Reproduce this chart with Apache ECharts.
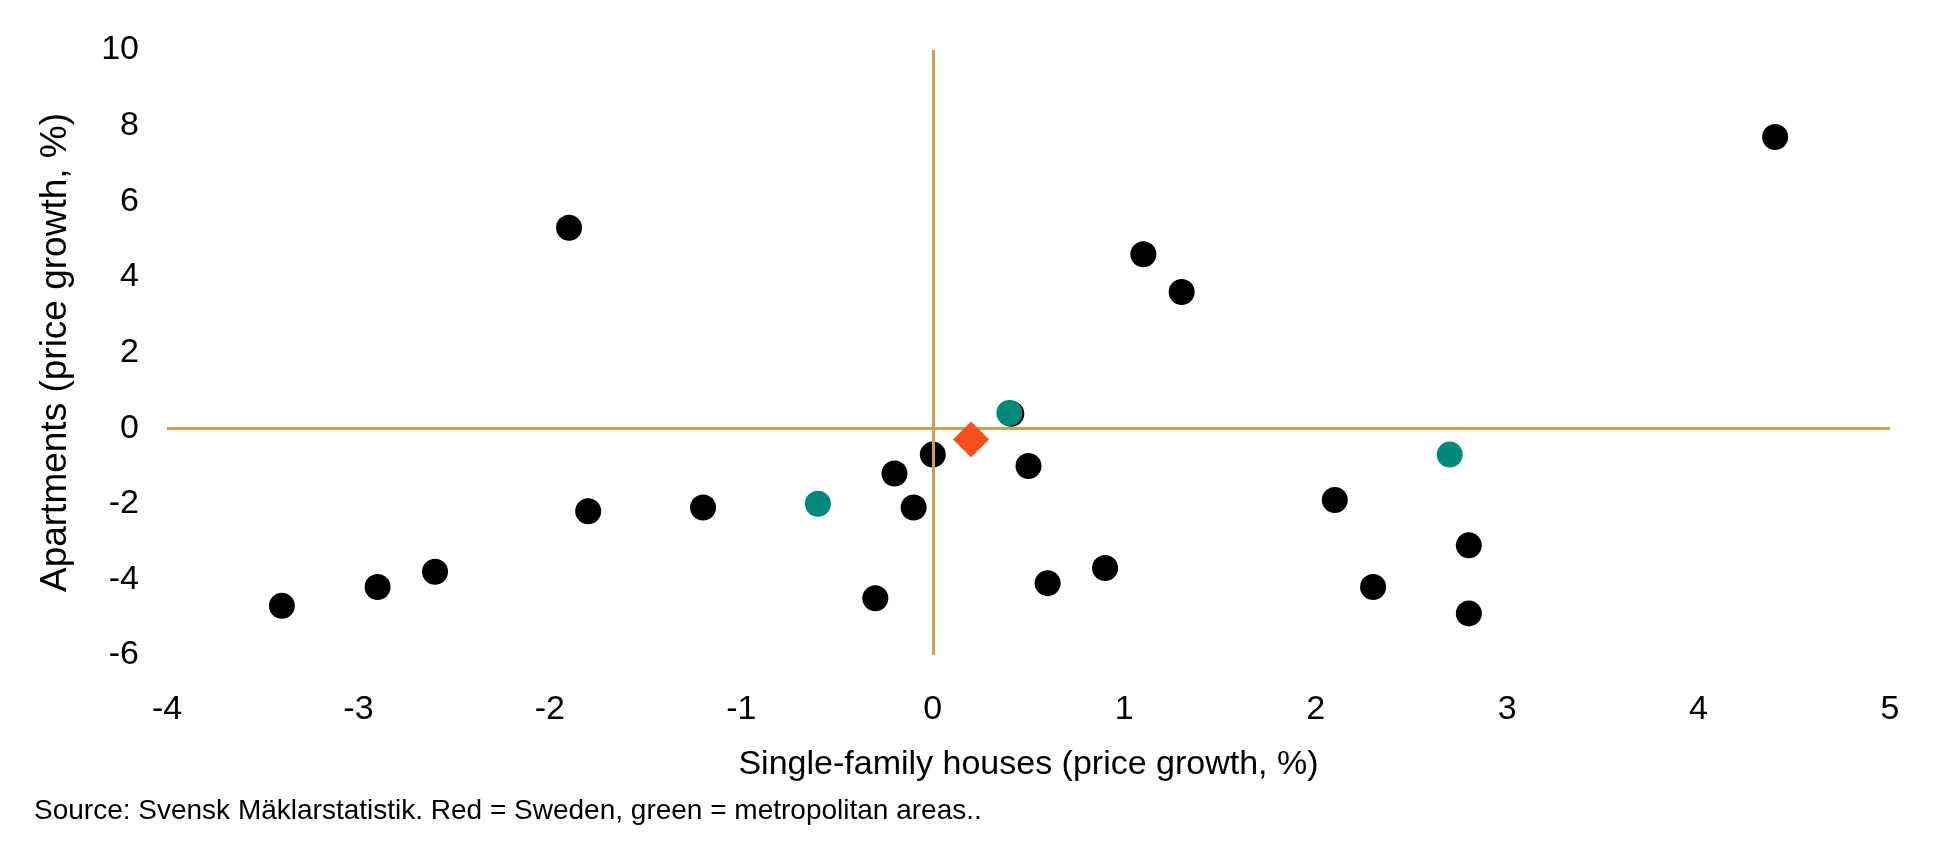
<!DOCTYPE html>
<html>
<head>
<meta charset="utf-8">
<script src="https://cdn.jsdelivr.net/npm/echarts@6/dist/echarts.min.js"></script>
<style>
html,body{margin:0;padding:0;background:#fff;}
#chart{width:1960px;height:844px;}
</style>
</head>
<body>
<div id="chart"></div>
<script>
// Single-family houses (x) vs apartments (y), price growth %
const regionsPoints = [
  [4.4, 7.7], [-1.9, 5.3], [1.1, 4.6], [1.3, 3.6], [0.41, 0.38],
  [0.0, -0.7], [-0.2, -1.2], [0.5, -1.0], [-0.1, -2.1], [-1.2, -2.1],
  [-1.8, -2.2], [-2.6, -3.8], [-2.9, -4.2], [-3.4, -4.7], [-0.3, -4.5],
  [0.6, -4.1], [0.9, -3.7], [2.1, -1.9], [2.8, -3.1], [2.3, -4.2],
  [2.8, -4.9]
];
const metroPoints = [[0.4, 0.4], [-0.6, -2.0], [2.7, -0.7]];
const swedenPoint = [[0.2, -0.3]];
const xTicks = [-4, -3, -2, -1, 0, 1, 2, 3, 4, 5];
const yTicks = [-6, -4, -2, 0, 2, 4, 6, 8, 10];

const FONT = 'Liberation Sans, Arial, sans-serif';
const GOLD = '#C4A452';

const chart = echarts.init(document.getElementById('chart'));
chart.setOption({
  backgroundColor: '#ffffff',
  animation: false,
  grid: { left: 167, right: 70, top: 50, bottom: 189, containLabel: false },
  xAxis: {
    type: 'value',
    min: xTicks[0], max: xTicks[xTicks.length - 1], interval: 1,
    name: 'Single-family houses (price growth, %)',
    nameLocation: 'middle', nameGap: 93,
    nameTextStyle: { fontFamily: FONT, fontSize: 34, color: '#000' },
    axisLine: { show: false }, axisTick: { show: false }, splitLine: { show: false },
    axisLabel: { fontFamily: FONT, fontSize: 34, color: '#000', margin: 38 }
  },
  yAxis: {
    type: 'value',
    min: yTicks[0], max: yTicks[yTicks.length - 1], interval: 2,
    name: 'Apartments (price growth, %)',
    nameLocation: 'middle', nameGap: 93, nameRotate: 90,
    nameTextStyle: { fontFamily: FONT, fontSize: 37, color: '#000' },
    axisLine: { show: false }, axisTick: { show: false }, splitLine: { show: false },
    axisLabel: { fontFamily: FONT, fontSize: 34, color: '#000', margin: 28 }
  },
  graphic: [{
    type: 'text', left: 34, top: 797,
    style: { text: 'Source: Svensk Mäklarstatistik. Red = Sweden, green = metropolitan areas..',
      font: '28px ' + FONT, fill: '#000' }
  }],
  series: [
    {
      type: 'scatter', data: [], z: 1, silent: true,
      markLine: {
        silent: true, symbol: 'none', animation: false,
        label: { show: false },
        lineStyle: { color: GOLD, width: 3, type: 'solid', opacity: 1 },
        data: [{ xAxis: 0 }, { yAxis: 0 }]
      }
    },
    {
      type: 'scatter', data: regionsPoints, z: 3,
      symbol: 'circle', symbolSize: 26,
      itemStyle: { color: '#000000', opacity: 1 }
    },
    {
      type: 'scatter', data: metroPoints, z: 4,
      symbol: 'circle', symbolSize: 26,
      itemStyle: { color: '#00887A', opacity: 1 }
    },
    {
      type: 'scatter', data: swedenPoint, z: 5,
      symbol: 'diamond', symbolSize: [36, 36],
      itemStyle: { color: '#F4511E', opacity: 1 }
    }
  ]
});
</script>
</body>
</html>
